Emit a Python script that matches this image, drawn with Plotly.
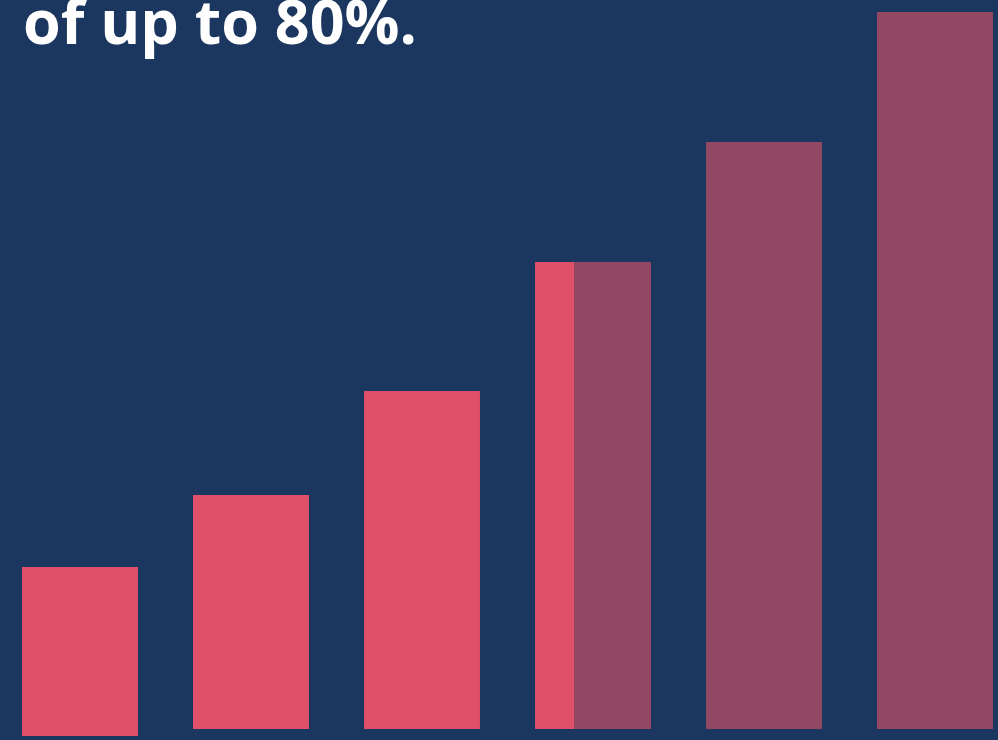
import plotly.graph_objects as go

categories = ["A", "B", "C", "D", "E", "F"]
pink_values = [169, 234, 338, 467]
pink_bases = [-7, 0, 0, 0]
purple_cats = ["D", "E", "F"]
purple_values = [467, 587, 717]
title_text = "of up to 80%."

BG = "#1B375F"
PINK = "#E05068"
PURPLE = "#924862"

fig = go.Figure()
fig.add_trace(go.Bar(
    x=categories[:4], y=pink_values, base=pink_bases,
    marker=dict(color=PINK, line=dict(width=0)), width=0.678,
    hoverinfo="skip",
))
fig.add_trace(go.Bar(
    x=purple_cats, y=purple_values,
    marker=dict(color=PURPLE, line=dict(width=0)),
    width=[0.450, 0.678, 0.678], offset=[-0.111, -0.339, -0.339],
    hoverinfo="skip",
))

fig.add_annotation(
    text=f"<b>{title_text}</b>", xref="paper", yref="paper",
    x=0.021, y=1.0, xanchor="left", yanchor="middle",
    showarrow=False, yshift=-20,
    font=dict(family="Open Sans", size=61, color="white"),
)

fig.update_layout(
    width=998, height=740,
    margin=dict(l=0, r=0, t=0, b=0),
    paper_bgcolor=BG, plot_bgcolor=BG,
    barmode="overlay", showlegend=False,
    xaxis=dict(type="category", categoryorder="array", categoryarray=categories,
               range=[-0.4678, 5.3684], visible=False, fixedrange=True),
    yaxis=dict(range=[-11, 729], visible=False, fixedrange=True),
)

fig.write_html(
    "out.html",
    config={"displayModeBar": False},
    post_script="document.body.style.margin='0';document.body.style.padding='0';"
                "document.documentElement.style.background='" + BG + "';"
                "document.body.style.overflow='hidden';",
)
